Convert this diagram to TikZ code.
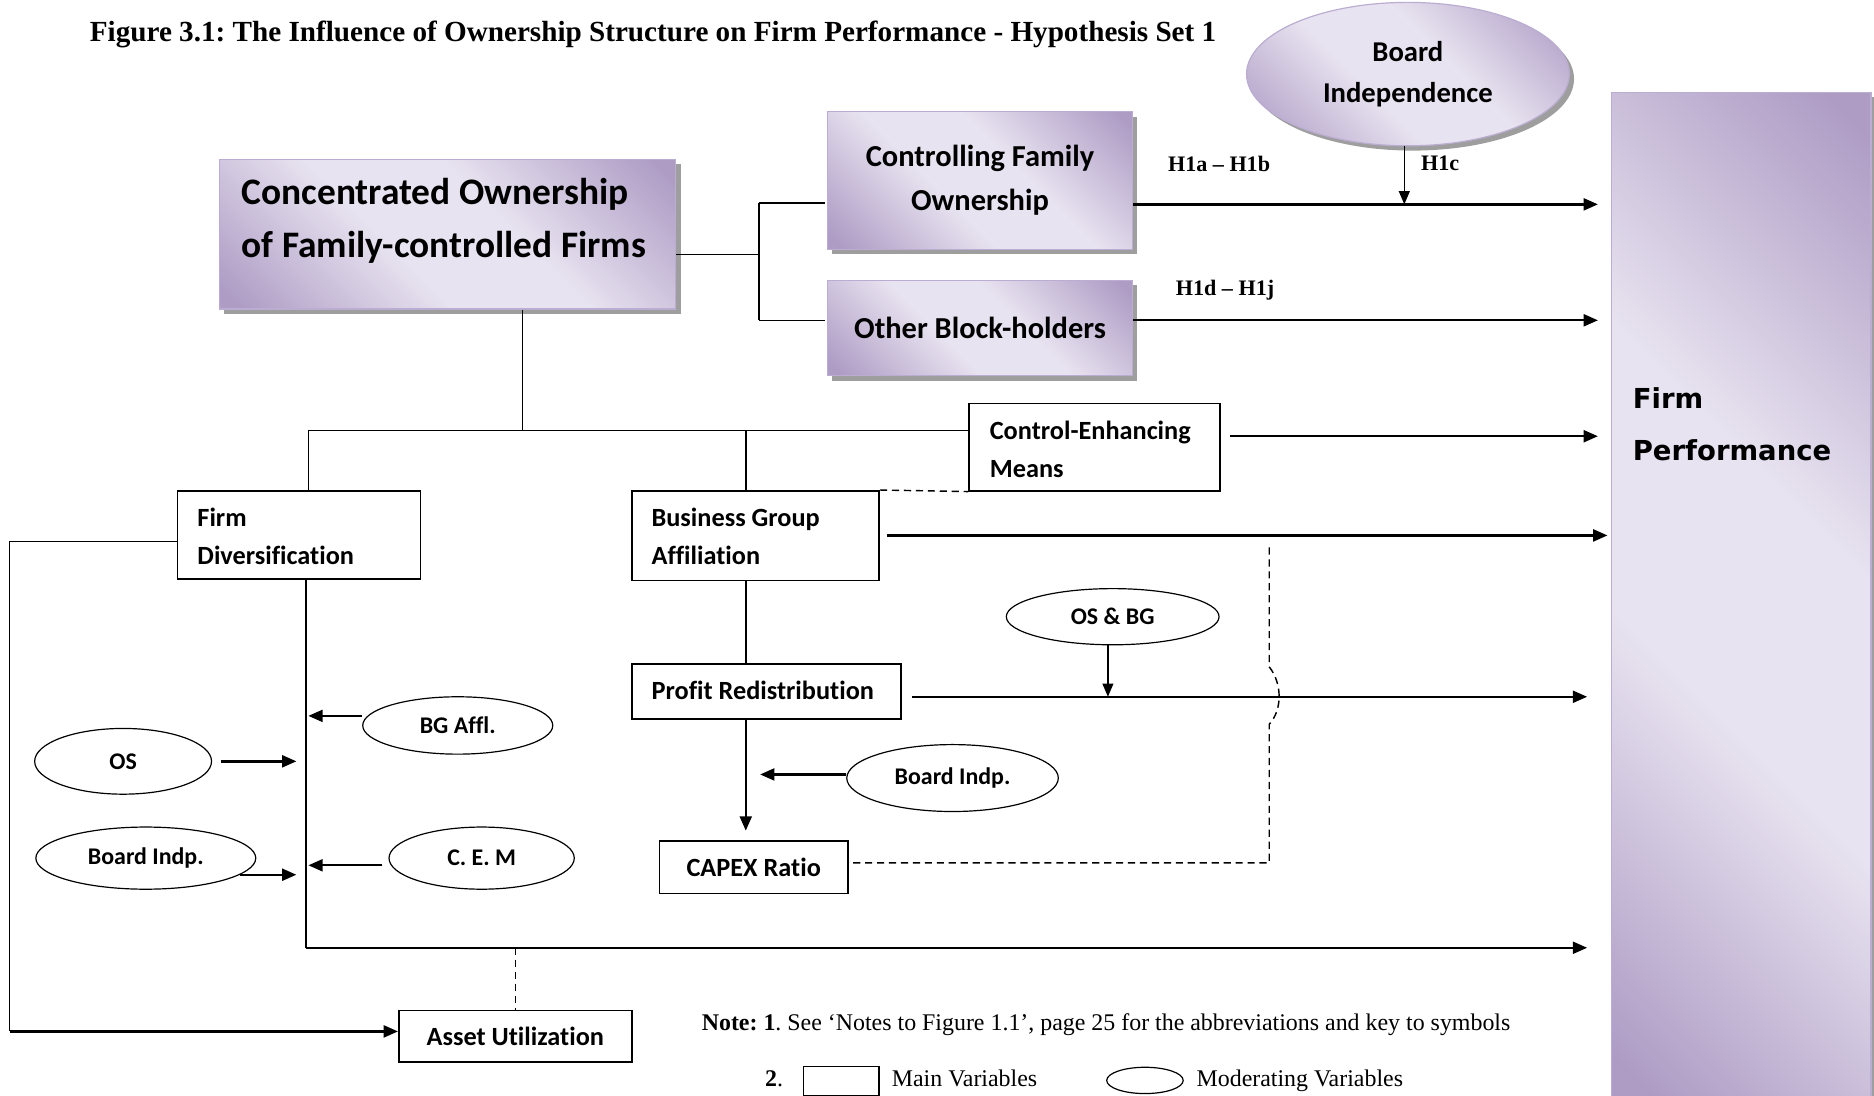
\documentclass[tikz,border=0pt]{standalone}
\usepackage{fontspec}
\setmainfont{Liberation Serif}
\newfontfamily\carl[Ligatures=NoCommon]{Carlito}
\newfontfamily\dvs{DejaVu Sans}
\usetikzlibrary{arrows.meta,shadows,calc,shapes.geometric}
\definecolor{plight}{HTML}{E8E3F0}
\definecolor{pdark}{HTML}{AE9CC5}
\definecolor{pborder}{HTML}{BBADD1}
\pgfdeclarehorizontalshading{purpdiag}{100bp}{color(0bp)=(pdark); color(17bp)=(pdark); color(42bp)=(plight); color(58bp)=(plight); color(83bp)=(pdark); color(100bp)=(pdark)}
\begin{document}
\frenchspacing
\begin{tikzpicture}[x=1pt,y=-1pt,
  gbox/.style={draw=pborder, line width=1pt, shade, shading=purpdiag, shading angle=45,
    drop shadow={shadow xshift=4pt, shadow yshift=-4pt, fill=black!38, opacity=1},
    anchor=north west, inner sep=0pt},
  gell/.style={ellipse, draw=pborder, line width=1pt, shade, shading=purpdiag, shading angle=45,
    drop shadow={shadow xshift=4pt, shadow yshift=-4pt, fill=black!38, opacity=1},
    inner sep=0pt},
  mbox/.style={draw, line width=1.3pt, fill=white, anchor=north west, inner sep=0pt,
    font=\carl\bfseries\fontsize{22}{32}\selectfont},
  btext/.style={anchor=west, align=left, inner sep=0pt, font=\carl\bfseries\fontsize{22}{32}\selectfont},
  mell/.style={draw, ellipse, line width=1pt, fill=white, inner sep=0pt,
    font=\carl\bfseries\fontsize{20}{24}\selectfont},
  hl/.style={inner sep=0pt, font=\bfseries\fontsize{18.5}{22}\selectfont},
  nt/.style={anchor=base west, inner sep=0pt, font=\fontsize{20}{24}\selectfont},
  ln/.style={line width=1.2pt},
  arr/.style={line width=2pt, -{Triangle[length=12pt,width=10pt]}},
  tarr/.style={line width=1.3pt, -{Triangle[length=11pt,width=9pt]}},
  dsh/.style={line width=1.2pt, dash pattern=on 6pt off 4pt}]
\useasboundingbox (0,0) rectangle (1568,917);

% title
\node[anchor=base west, inner sep=0pt, font=\bfseries\fontsize{24.4}{28}\selectfont] (title) at (75,35)
  {Figure 3.1: The Influence of Ownership Structure on Firm Performance - Hypothesis Set 1};

% gradient nodes
\node[gbox, minimum width=217pt, minimum height=842pt] (fp) at (1348,77) {};
\node[anchor=west, align=left, inner sep=0pt, font=\dvs\bfseries\fontsize{23}{44}\selectfont] (fpt) at (1366,355) {Firm\\Performance};

\node[gbox, minimum width=382pt, minimum height=125pt] (cof) at (183,133) {};
\node[anchor=west, align=left, inner sep=0pt, font=\carl\bfseries\fontsize{31.3}{44}\selectfont] (coft) at (202,185)
  {Concentrated Ownership\\of Family-controlled Firms};

\node[gbox, minimum width=255pt, minimum height=115pt, align=center,
  font=\carl\bfseries\fontsize{25.5}{37}\selectfont] (cfo) at (692,93) {Controlling Family\\Ownership};
\node[gbox, minimum width=255pt, minimum height=80pt,
  font=\carl\bfseries\fontsize{25.5}{30}\selectfont] (obh) at (692,234) {Other Block-holders};

\node[gell, minimum width=270pt, minimum height=120pt, align=center,
  font=\carl\bfseries\fontsize{24}{34}\selectfont] (bi) at (1178,62) {Board\\Independence};

% main variable boxes
\node[mbox, minimum width=210pt, minimum height=73pt] (cem) at (810,337) {};
\node[btext] (cemt) at (828,376) {Control-Enhancing\\Means};
\node[mbox, minimum width=203pt, minimum height=74pt] (fd) at (148,410) {};
\node[btext] (fdt) at (165,449) {Firm\\Diversification};
\node[mbox, minimum width=207pt, minimum height=75pt] (bga) at (528,410) {};
\node[btext] (bgat) at (545,449) {Business Group\\Affiliation};
\node[mbox, minimum width=225pt, minimum height=46pt] (pr) at (528,555) {};
\node[btext] (prt) at (545,578) {Profit Redistribution};
\node[mbox, minimum width=158pt, minimum height=44pt] (capex) at (551,703) {CAPEX Ratio};
\node[mbox, minimum width=195pt, minimum height=43pt] (au) at (333,845) {Asset Utilization};

% moderating ellipses
\node[mell, minimum width=159pt, minimum height=48pt] (bgaff) at (383,607) {BG Affl.};
\node[mell, minimum width=148pt, minimum height=55pt] (os) at (103,637) {OS};
\node[mell, minimum width=184pt, minimum height=52pt] (bil) at (122,718) {Board Indp.};
\node[mell, minimum width=155pt, minimum height=52pt] (cemm) at (403,718) {C. E. M};
\node[mell, minimum width=178pt, minimum height=47pt] (osbg) at (931,516) {OS \& BG};
\node[mell, minimum width=177pt, minimum height=56pt] (bim) at (797,651) {Board Indp.};

% hypothesis labels
\node[hl] (h1) at (1020,137) {H1a – H1b};
\node[hl] (h2) at (1205,137) {H1c};
\node[hl] (h3) at (1025,243) {H1d – H1j};

% coordinates
\coordinate (j1) at (635,213);
\coordinate (j1a) at (635,170);
\coordinate (j1b) at (635,268);
\coordinate (j2) at (437,360);
\coordinate (j3) at (258,360);
\coordinate (j4) at (624,360);
\coordinate (j5) at (256,793);
\coordinate (b1) at (1175,171);
\coordinate (b2) at (927,583);
\coordinate (e1) at (1337,171);
\coordinate (e2) at (1337,268);
\coordinate (e3) at (1337,365);
\coordinate (e4) at (1345,448);
\coordinate (e5) at (1328,583);
\coordinate (e6) at (1328,793);
\coordinate (t1) at (636,648);
\coordinate (t2) at (258,599);
\coordinate (t3) at (248,637);
\coordinate (t4) at (248,735);
\coordinate (t5) at (258,724);
\coordinate (l1) at (8,453);
\coordinate (l2) at (8,863);
\coordinate (d1) at (1062,458);
\coordinate (d2) at (1062,722);

% tree lines
\draw[ln] (cof.east |- j1) -- (j1);
\draw[ln] (j1a) -- (j1b);
\draw[ln] (j1a) -- ($(cfo.west |- j1a)+(-2,0)$);
\draw[ln] (j1b) -- ($(obh.west |- j1b)+(-2,0)$);
\draw[ln] (cof.south -| j2) -- (j2);
\draw[ln] (j3) -- (cem.west |- j3);
\draw[ln] (j3) -- (fd.north -| j3);
\draw[ln] (j4) -- (bga.north -| j4);
\draw[ln] (bga.south -| j4) -- (pr.north -| j4);

% arrows to firm performance
\draw[arr] (cfo.east |- e1) -- (e1);
\draw[tarr] (bi.south -| b1) -- (b1);
\draw[arr] (obh.east |- e2) -- (e2);
\draw[arr] ($(cem.east |- e3)+(8,0)$) -- (e3);
\draw[arr] ($(bga.east |- e4)+(6,0)$) -- (e4);
\draw[arr] ($(pr.east |- e5)+(9,0)$) -- (e5);
\draw[tarr] (osbg.south -| b2) -- (b2);
\draw[arr] (pr.south -| j4) -- ($(capex.north -| j4)+(0,-8)$);
\draw[arr] (bim.west |- t1) -- (t1);

% firm diversification branch
\draw[ln] (fd.south -| j5) -- (j5);
\draw[arr] (j5) -- (e6);
\draw[arr] (bgaff.west |- t2) -- (t2);
\draw[arr] ($(os.east)+(7,0)$) -- (t3);
\draw[arr] (bil.-10) -- (t4 |- bil.-10);
\draw[arr] ($(cemm.west |- t5)+(-5,0)$) -- (t5);

% asset utilization loop
\draw[ln] (fd.west |- l1) -- (l1) -- (l2);
\draw[arr] (l2) -- (au.west |- l2);
\draw[dsh] (j5 -| au.north) -- (au.north);

% dashed links
\draw[dsh] (bga.north east) -- (cem.south west);
\draw[dsh] (d1) -- (1062,558) .. controls (1073,572) and (1073,594) .. (1062,606) -- (d2) -- (capex.east |- d2);

% notes
\node[nt] (note1) at (587,862)
  {\textbf{Note: 1}. See ‘Notes to Figure 1.1’, page 25 for the abbreviations and key to symbols};
\node[nt] (n2) at (640,909) {\textbf{2}.};
\node[draw, line width=1pt, minimum width=63pt, minimum height=24pt, anchor=north west, inner sep=0pt] (lgr) at (672,892) {};
\node[nt] (lgrt) at (746,909) {Main Variables};
\node[draw, ellipse, line width=1pt, minimum width=64pt, minimum height=22pt, inner sep=0pt] (lge) at (958,904) {};
\node[nt] (lget) at (1001,909) {Moderating Variables};
\end{tikzpicture}
\end{document}
